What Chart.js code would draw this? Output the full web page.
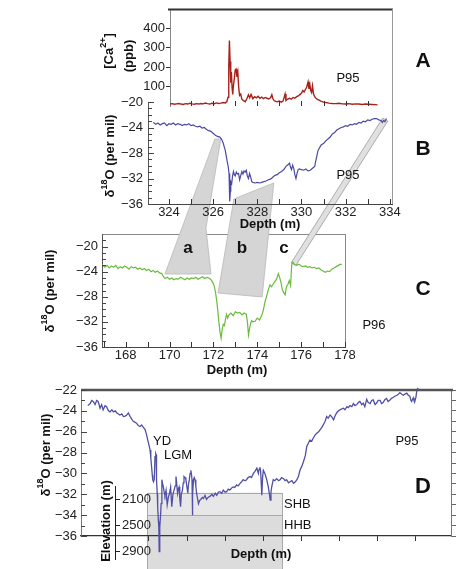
<!DOCTYPE html>
<html><head><meta charset="utf-8">
<script src="https://cdn.jsdelivr.net/npm/chart.js@4.4.1/dist/chart.umd.min.js"></script>
<style>
html,body{margin:0;padding:0;background:#fff;overflow:hidden}
#wrap{position:relative;width:464px;height:569px;background:#fff}
#wrap canvas{position:absolute;left:0;top:0}
</style></head><body>
<div id="wrap">
<canvas id="cC" width="464" height="569"></canvas>
<canvas id="cB" width="464" height="569"></canvas>
<canvas id="cA" width="464" height="569"></canvas>
<canvas id="cD" width="464" height="569"></canvas>
<canvas id="cE" width="464" height="569"></canvas>
</div>
<script>
// ---------- DATA ----------
// Panel A: P95 [Ca2+] (ppb) vs depth (m)
const depthA = [
324.05,324.15,324.25,324.35,324.45,324.55,324.65,324.75,324.85,324.95,
325.05,325.15,325.25,325.35,325.45,325.55,325.65,325.75,325.85,325.95,
326.05,326.15,326.25,326.35,326.45,326.55,326.62,326.68,326.71,326.74,
326.77,326.80,326.83,326.86,326.89,326.92,326.96,327.00,327.04,327.08,
327.12,327.16,327.20,327.25,327.30,327.38,327.46,327.54,327.60,327.66,
327.72,327.80,327.88,327.96,328.04,328.12,328.20,328.28,328.36,328.44,
328.52,328.60,328.66,328.70,328.76,328.84,328.92,329.00,329.08,329.16,
329.22,329.26,329.30,329.38,329.46,329.54,329.62,329.70,329.78,329.86,
329.94,330.00,330.06,330.12,330.18,330.24,330.30,330.34,330.38,330.42,
330.46,330.50,330.55,330.60,330.66,330.72,330.80,330.90,331.00,331.10,
331.25,331.40,331.55,331.70,331.85,332.00,332.15,332.30,332.45,332.60,
332.75,332.90,333.05,333.20,333.35,333.45];
const caA = [
10,12,9,11,13,10,8,12,10,14,
11,9,12,10,13,11,15,12,10,14,
12,16,13,15,18,16,22,45,200,338,
230,120,175,95,60,105,140,185,190,150,
175,95,55,62,35,28,22,40,58,42,
60,38,48,42,50,40,46,38,44,40,
36,42,58,40,28,24,22,26,20,24,
45,62,28,36,40,35,44,40,48,52,
60,66,80,72,85,98,124,88,112,80,
70,104,62,48,40,34,30,24,20,18,
15,13,12,14,11,10,12,9,11,10,
8,10,9,8,7,6];
const caTicks = [100,200,300,400];
const aDepthMarks = [325,326,327,328,329,330,331,332,333];

// Panel B: P95 d18O (per mil) vs depth (m)
const depthB = [
323.29,323.4,323.5,323.6,323.7,323.8,323.9,324.0,324.1,324.2,
324.3,324.4,324.5,324.6,324.7,324.8,324.9,325.0,325.1,325.2,
325.3,325.4,325.5,325.6,325.7,325.8,325.9,326.0,326.1,326.2,
326.3,326.38,326.45,326.5,326.55,326.6,326.64,326.68,326.72,326.74,
326.76,326.78,326.8,326.84,326.88,326.92,326.96,327.0,327.05,327.1,
327.15,327.2,327.25,327.3,327.35,327.4,327.45,327.5,327.55,327.6,
327.65,327.7,327.75,327.8,327.9,328.0,328.1,328.2,328.3,328.4,
328.5,328.6,328.7,328.8,328.9,329.0,329.1,329.2,329.3,329.4,
329.46,329.5,329.55,329.6,329.65,329.7,329.75,329.8,329.85,329.9,
330.0,330.1,330.2,330.3,330.4,330.5,330.6,330.65,330.7,330.75,
330.8,330.85,330.9,331.0,331.1,331.2,331.3,331.4,331.5,331.6,
331.7,331.8,331.9,332.0,332.1,332.2,332.3,332.4,332.5,332.6,
332.7,332.8,332.9,333.0,333.1,333.2,333.3,333.4,333.5,333.6,
333.66,333.72,333.78,333.85];
const d18B = [
-23.2,-23.5,-23.3,-23.6,-23.4,-23.3,-23.7,-23.4,-23.5,-23.3,
-23.6,-23.4,-23.5,-23.7,-23.5,-23.6,-23.4,-23.7,-23.6,-23.8,
-23.9,-23.8,-24.1,-24.0,-24.3,-24.5,-24.6,-24.9,-25.2,-25.4,
-25.5,-25.8,-26.4,-27.0,-27.6,-28.6,-29.4,-30.1,-31.2,-32.8,
-35.6,-34.0,-32.5,-32.8,-31.6,-30.9,-31.4,-31.6,-31.0,-31.3,
-31.2,-32.2,-31.5,-30.9,-31.3,-30.8,-31.0,-30.7,-31.6,-32.0,
-31.2,-31.8,-32.5,-32.6,-32.7,-32.6,-32.7,-32.6,-32.5,-32.4,
-32.2,-32.1,-31.8,-31.5,-31.4,-31.1,-30.9,-30.6,-30.1,-29.8,
-29.6,-30.2,-30.6,-29.9,-30.4,-31.4,-32.0,-31.2,-30.6,-30.5,
-30.6,-30.7,-30.5,-30.8,-30.7,-30.4,-30.1,-29.2,-28.4,-27.6,
-27.3,-27.0,-26.7,-26.5,-26.1,-25.8,-25.5,-25.0,-24.8,-24.4,
-24.2,-24.0,-23.9,-23.7,-23.8,-23.5,-23.6,-23.4,-23.5,-23.2,
-23.3,-23.0,-23.1,-22.8,-22.9,-22.7,-22.6,-22.6,-22.8,-22.9,
-23.2,-22.9,-23.1,-22.6];
const bDepthTicks = [324,326,328,330,332,334];
const bDepthMarks = [324,325,326,327,328,329,330,331,332,333,334];
const bD18Ticks = [-36,-32,-28,-24,-20];
const bD18Marks = [-36,-35,-34,-33,-32,-31,-30,-29,-28,-27,-26,-25,-24,-23,-22,-21,-20];

// Panel C: P96 d18O (per mil) vs depth (m)
const depthC = [
166.92,167.05,167.15,167.25,167.35,167.45,167.55,167.65,167.75,167.85,
167.95,168.05,168.15,168.25,168.35,168.45,168.55,168.65,168.75,168.85,
168.95,169.05,169.15,169.25,169.35,169.45,169.55,169.65,169.72,169.8,
169.9,170.0,170.1,170.2,170.3,170.4,170.5,170.6,170.7,170.8,
170.9,171.0,171.1,171.2,171.3,171.4,171.5,171.6,171.7,171.8,
171.9,172.0,172.05,172.1,172.15,172.2,172.25,172.3,172.35,172.4,
172.45,172.5,172.55,172.6,172.65,172.7,172.8,172.9,173.0,173.1,
173.2,173.3,173.4,173.5,173.55,173.6,173.65,173.7,173.75,173.8,
173.9,174.0,174.1,174.2,174.28,174.35,174.42,174.5,174.58,174.65,
174.72,174.8,174.88,174.96,175.02,175.08,175.14,175.2,175.27,175.33,
175.4,175.46,175.52,175.57,175.62,175.7,175.8,175.9,176.0,176.1,
176.2,176.3,176.4,176.5,176.6,176.7,176.8,176.9,177.0,177.1,
177.2,177.3,177.4,177.5,177.6,177.7,177.8,177.85];
const d18C = [
-22.9,-23.3,-23.0,-23.4,-23.1,-23.3,-23.0,-23.5,-23.2,-23.4,
-23.1,-23.3,-23.6,-23.2,-23.4,-23.3,-23.6,-23.4,-23.7,-23.5,
-23.8,-23.6,-24.0,-23.8,-24.1,-23.9,-24.2,-24.3,-24.8,-25.1,
-24.9,-25.2,-25.0,-25.3,-25.1,-25.2,-24.9,-25.1,-25.3,-25.0,
-25.2,-25.0,-25.1,-24.9,-25.2,-25.0,-24.8,-25.1,-24.9,-25.0,
-25.3,-25.9,-26.5,-27.4,-28.6,-30.2,-32.0,-33.6,-34.6,-33.2,
-32.4,-32.6,-31.6,-30.8,-31.4,-30.9,-30.6,-31.0,-30.4,-30.6,
-30.5,-30.9,-30.6,-30.8,-32.0,-34.1,-33.0,-32.2,-31.8,-32.0,
-31.9,-31.4,-31.7,-31.0,-30.1,-28.8,-28.0,-26.9,-26.1,-26.4,
-26.0,-25.6,-25.2,-24.3,-24.9,-25.7,-26.8,-27.3,-27.7,-26.4,
-26.0,-25.4,-26.2,-22.9,-22.5,-22.9,-23.0,-22.8,-23.1,-23.2,
-23.1,-23.3,-23.2,-23.4,-23.3,-23.5,-23.4,-23.7,-23.9,-24.1,
-23.9,-24.0,-23.6,-23.4,-23.2,-23.0,-22.8,-22.9];
const cDepthTicks = [168,170,172,174,176,178];
const cDepthMarks = [167,168,169,170,171,172,173,174,175,176,177,178];
const cD18Ticks = [-36,-32,-28,-24,-20];
const cD18Marks = [-36,-35,-34,-33,-32,-31,-30,-29,-28,-27,-26,-25,-24,-23,-22,-21,-20,-19];

// Panel D: P95 d18O (per mil) along the longer depth section (unlabelled depth units)
const depthD = [
0.40,0.46,0.50,0.54,0.59,0.63,0.67,0.72,0.76,0.80,
0.85,0.89,0.94,0.98,1.03,1.07,1.12,1.16,1.20,1.24,
1.29,1.33,1.38,1.42,1.46,1.51,1.55,1.59,1.64,1.68,
1.72,1.77,1.81,1.86,1.90,1.94,1.97,1.99,2.01,2.03,
2.05,2.07,2.09,2.10,2.12,2.14,2.16,2.18,2.19,2.20,
2.22,2.23,2.25,2.26,2.27,2.28,2.29,2.31,2.32,2.34,
2.36,2.38,2.40,2.42,2.45,2.48,2.51,2.54,2.57,2.60,
2.63,2.66,2.69,2.71,2.73,2.75,2.77,2.79,2.81,2.83,
2.85,2.88,2.90,2.92,2.95,2.97,3.00,3.02,3.04,3.06,
3.08,3.10,3.12,3.13,3.14,3.15,3.17,3.19,3.21,3.23,
3.25,3.28,3.30,3.33,3.36,3.40,3.43,3.47,3.51,3.55,
3.60,3.65,3.69,3.74,3.78,3.82,3.86,3.91,3.95,4.00,
4.04,4.08,4.12,4.17,4.21,4.25,4.30,4.34,4.39,4.43,
4.47,4.52,4.56,4.60,4.65,4.69,4.74,4.78,4.83,4.87,
4.89,4.91,4.93,4.96,4.98,5.00,5.04,5.09,5.13,5.16,
5.18,5.20,5.22,5.26,5.30,5.35,5.40,5.44,5.48,5.53,
5.57,5.61,5.66,5.70,5.75,5.79,5.84,5.88,5.92,5.96,
6.01,6.05,6.10,6.14,6.18,6.22,6.27,6.31,6.36,6.40,
6.45,6.49,6.53,6.57,6.62,6.66,6.70,6.75,6.80,6.84,
6.88,6.92,6.97,7.01,7.06,7.10,7.14,7.19,7.23,7.27,
7.32,7.36,7.40,7.45,7.49,7.53,7.58,7.62,7.66,7.71,
7.75,7.80,7.84,7.88,7.93,7.97,8.01,8.06,8.10,8.14,
8.19,8.23,8.27,8.32,8.36,8.41,8.45,8.50,8.54,8.58,
8.63,8.67,8.71,8.76,8.80,8.84,8.87,8.89,8.91,8.93,
8.95,8.97,9.00,9.02,9.04,9.06];
const d18D = [
-23.5,-23.3,-23.0,-23.1,-23.4,-23.0,-23.1,-23.75,-23.4,-23.9,
-23.5,-23.6,-24.0,-24.1,-23.9,-24.1,-24.0,-24.2,-24.3,-24.4,
-24.3,-24.55,-24.5,-24.4,-24.2,-24.55,-24.8,-25.0,-25.1,-25.2,
-25.4,-25.5,-25.35,-25.6,-25.8,-26.3,-26.8,-27.1,-27.4,-27.75,
-28.5,-29.35,-30.2,-30.6,-30.8,-30.6,-28.4,-28.1,-28.2,-30.6,
-32.0,-33.2,-34.6,-35.1,-37.5,-36.6,-35.1,-33.8,-32.9,-30.6,
-31.0,-31.3,-31.8,-32.1,-31.6,-33.0,-32.3,-31.9,-31.3,-33.2,
-32.0,-31.6,-31.2,-30.3,-31.0,-31.9,-31.5,-31.3,-32.4,-33.2,
-32.0,-31.6,-30.9,-30.3,-30.4,-30.6,-31.4,-31.9,-31.0,-30.6,
-30.0,-29.7,-30.2,-30.6,-34.0,-32.0,-30.6,-30.4,-30.6,-31.2,
-31.9,-32.5,-32.9,-32.6,-32.5,-32.3,-32.4,-32.1,-32.5,-32.3,
-32.2,-32.0,-32.2,-31.9,-32.1,-31.8,-31.75,-31.9,-31.6,-31.8,
-31.75,-31.5,-31.6,-31.4,-31.3,-31.35,-31.1,-31.2,-30.95,-30.8,
-30.6,-30.7,-30.6,-30.4,-30.3,-30.4,-30.0,-29.8,-29.5,-30.0,
-29.6,-29.4,-29.8,-32.1,-30.4,-29.7,-30.0,-30.6,-31.3,-32.0,
-32.55,-31.8,-31.3,-30.6,-30.7,-30.5,-30.7,-30.6,-30.4,-30.5,
-30.7,-30.6,-30.9,-30.8,-30.7,-30.95,-30.8,-30.6,-30.3,-29.7,
-29.3,-28.9,-28.3,-27.4,-27.1,-26.8,-26.9,-26.6,-26.3,-26.15,
-26.0,-25.8,-25.6,-25.35,-25.0,-24.55,-24.7,-24.4,-24.6,-24.85,
-24.5,-24.2,-24.0,-23.9,-23.8,-23.75,-23.9,-23.6,-23.7,-23.5,
-23.6,-23.3,-23.5,-23.4,-23.2,-23.1,-23.4,-23.25,-23.6,-22.9,
-23.2,-23.3,-23.0,-22.95,-23.4,-23.25,-23.0,-23.0,-23.3,-23.2,
-22.9,-22.8,-23.1,-22.95,-22.8,-22.7,-22.6,-22.5,-22.4,-22.25,
-22.4,-22.5,-22.4,-22.3,-22.5,-22.6,-23.0,-23.1,-22.9,-22.75,
-23.0,-23.1,-22.7,-22.15,-21.9,-21.8];
const dDepthMarks = [2,3,4,5,6,7,8,9];
const dD18Ticks = [-36,-34,-32,-30,-28,-26,-24,-22];
const dD18Marks = [-36,-35,-34,-33,-32,-31,-30,-29,-28,-27,-26,-25,-24,-23,-22];

// Elevation inset (m) and the two bands SHB / HHB
const elevTicks = [2100,2500,2900];
const bandNames = ['SHB','HHB'];
const bandElevFrom = [2000,2350];
const bandElevTo = [2350,3200];
const bandDepthFrom = 1.95;
const bandDepthTo = 5.49;

// Correlation wedges between P95 (panel B) and P96 (panel C): [panel, depth, d18O]
const wedgeA = [['B',326.08,-25.8],['B',326.35,-25.8],['C',171.66,-17.04],['C',171.89,-24.37],['C',169.79,-24.37]];
const wedgeB = [['B',326.94,-35.2],['B',328.75,-32.7],['C',174.22,-28.03],['C',172.21,-27.4]];
const wedgeC = [['B',333.68,-22.51],['B',333.91,-22.98],['C',175.77,-22.94],['C',175.54,-22.62]];

// ---------- HELPERS ----------
const FONT = "'Liberation Sans', Arial, Helvetica, sans-serif";
Chart.defaults.font.family = FONT;
Chart.defaults.font.size = 13;
Chart.defaults.color = '#1a1a1a';
const fixW = w => s => { s.width = w; };
const fixH = h => s => { s.height = h; };
const setTicks = arr => s => { s.ticks = arr.map(v => ({value: v})); };
const minus = v => String(v).replace('-', '\u2212');
const plain = v => String(v);
const pts = (xs, ys) => xs.map((x, i) => ({x: x, y: ys[i]}));
const B13 = 'bold 13px ' + FONT, B9 = 'bold 9px ' + FONT;

function txt(ctx, s, x, y, font, align) {
  ctx.save(); ctx.font = font; ctx.fillStyle = '#111';
  ctx.textAlign = align || 'center'; ctx.textBaseline = 'middle';
  ctx.fillText(s, x, y); ctx.restore();
}
function vrich(ctx, parts, x, y) {
  ctx.save(); ctx.translate(x, y); ctx.rotate(-Math.PI / 2);
  ctx.fillStyle = '#111'; ctx.textBaseline = 'middle'; ctx.textAlign = 'left';
  let w = 0;
  parts.forEach(p => { ctx.font = p.f; p.w = ctx.measureText(p.t).width; w += p.w; });
  let cx = -w / 2;
  parts.forEach(p => { ctx.font = p.f; ctx.fillText(p.t, cx, p.dy || 0); cx += p.w; });
  ctx.restore();
}
const d18Title = [{t: '\u03b4', f: B13}, {t: '18', f: B9, dy: -5}, {t: 'O (per mil)', f: B13}];
function line(ctx, x1, y1, x2, y2, color, w) {
  ctx.save(); ctx.strokeStyle = color; ctx.lineWidth = w || 1;
  ctx.beginPath(); ctx.moveTo(x1, y1); ctx.lineTo(x2, y2); ctx.stroke(); ctx.restore();
}
function xMarks(ctx, scale, vals, yEdge, len, color) {
  vals.forEach(v => { const p = Math.round(scale.getPixelForValue(v)) + 0.5; line(ctx, p, yEdge, p, yEdge - len, color, 1); });
}
function yMarks(ctx, scale, vals, xEdge, majors, lenMin, lenMaj, color) {
  vals.forEach(v => {
    const p = Math.round(scale.getPixelForValue(v)) + 0.5;
    const L = majors.indexOf(v) >= 0 ? lenMaj : lenMin;
    line(ctx, xEdge, p, xEdge + L, p, color, 1);
  });
}
const baseOpts = (pad) => ({
  responsive: false, animation: false, devicePixelRatio: 1, events: [],
  layout: {padding: pad},
  plugins: {legend: {display: false}, tooltip: {enabled: false}, title: {display: false}}
});

// ---------- PANEL B ----------
const chartB = new Chart(document.getElementById('cB'), {
  type: 'line',
  data: {datasets: [{data: pts(depthB, d18B), borderColor: '#4a4aa2', borderWidth: 1.2, pointRadius: 0, tension: 0}]},
  options: Object.assign(baseOpts({left: 108, right: 72, top: 102, bottom: 349}), {
    scales: {
      x: {type: 'linear', min: 323.05, max: 334.1, afterFit: fixH(16), afterBuildTicks: setTicks(bDepthTicks),
          ticks: {padding: 1, color: '#222', autoSkip: false, maxRotation: 0, callback: plain},
          grid: {display: false, drawTicks: false}, border: {display: true, color: '#444'}},
      y: {type: 'linear', min: -36, max: -20, afterFit: fixW(40), afterBuildTicks: setTicks(bD18Ticks),
          ticks: {padding: 5, color: '#222', callback: minus},
          grid: {display: false, drawTicks: false}, border: {display: true, color: '#555'}}
    }
  }),
  plugins: [{id: 'decoB', afterDraw(c) {
    const ctx = c.ctx, a = c.chartArea;
    line(ctx, a.right + 0.5, a.top, a.right + 0.5, a.bottom, '#999', 1);
    xMarks(ctx, c.scales.x, bDepthMarks, a.bottom, 5, '#333');
    yMarks(ctx, c.scales.y, bD18Marks, a.left, bD18Ticks, 4, 6, '#444');
    txt(ctx, 'P95', 348, 175, '13px ' + FONT);
    txt(ctx, 'Depth (m)', 270, 224, B13);
    txt(ctx, 'B', 423, 149, 'bold 21px ' + FONT);
    vrich(ctx, d18Title, 110, 156);
  }}]
});

// ---------- PANEL C ----------
function wedgePx(p, self) {
  const ch = p[0] === 'B' ? chartB : self;
  return [ch.scales.x.getPixelForValue(p[1]), ch.scales.y.getPixelForValue(p[2])];
}
function drawWedge(ctx, w, self, fill, stroke) {
  ctx.save(); ctx.beginPath();
  w.forEach((p, i) => { const q = wedgePx(p, self); if (i === 0) ctx.moveTo(q[0], q[1]); else ctx.lineTo(q[0], q[1]); });
  ctx.closePath(); ctx.fillStyle = fill; ctx.fill();
  ctx.strokeStyle = stroke; ctx.lineWidth = 0.8; ctx.stroke(); ctx.restore();
}
const chartC = new Chart(document.getElementById('cC'), {
  type: 'line',
  data: {datasets: [{data: pts(depthC, d18C), borderColor: '#6abb3c', borderWidth: 1.2, pointRadius: 0, tension: 0}]},
  options: Object.assign(baseOpts({left: 62, right: 119, top: 234, bottom: 206}), {
    scales: {
      x: {type: 'linear', min: 166.92, max: 178, afterFit: fixH(16), afterBuildTicks: setTicks(cDepthTicks),
          ticks: {padding: 1, color: '#222', autoSkip: false, maxRotation: 0, callback: plain},
          grid: {display: false, drawTicks: false}, border: {display: true, color: '#444'}},
      y: {type: 'linear', min: -36, max: -18, afterFit: fixW(40), afterBuildTicks: setTicks(cD18Ticks),
          ticks: {padding: 4, color: '#222', callback: minus},
          grid: {display: false, drawTicks: false}, border: {display: true, color: '#555'}}
    }
  }),
  plugins: [{id: 'decoC',
    beforeDraw(c) {
      const ctx = c.ctx, a = c.chartArea;
      line(ctx, a.left, a.top + 0.5, a.right, a.top + 0.5, '#888', 1);
      line(ctx, a.right + 0.5, a.top, a.right + 0.5, a.bottom, '#888', 1);
    },
    beforeDatasetsDraw(c) {
      const ctx = c.ctx;
      drawWedge(ctx, wedgeA, c, '#d5d5d5', '#b8b8b8');
      drawWedge(ctx, wedgeB, c, '#d5d5d5', '#b8b8b8');
      drawWedge(ctx, wedgeC, c, '#e0e0e0', '#9a9a9a');
    },
    afterDraw(c) {
      const ctx = c.ctx, a = c.chartArea;
      xMarks(ctx, c.scales.x, cDepthMarks, a.bottom, 5, '#333');
      yMarks(ctx, c.scales.y, cD18Marks, a.left, cD18Ticks, 4, 6, '#444');
      txt(ctx, 'a', 188, 248, 'bold 17px ' + FONT);
      txt(ctx, 'b', 242, 248, 'bold 17px ' + FONT);
      txt(ctx, 'c', 284, 248, 'bold 17px ' + FONT);
      txt(ctx, 'P96', 374, 325, '13px ' + FONT);
      txt(ctx, 'Depth (m)', 237, 370, B13);
      txt(ctx, 'C', 423, 289, 'bold 21px ' + FONT);
      vrich(ctx, d18Title, 50, 291);
    }
  }]
});

// ---------- PANEL A ----------
const chartA = new Chart(document.getElementById('cA'), {
  type: 'line',
  data: {datasets: [{data: pts(depthA, caA), borderColor: '#a8221a', borderWidth: 1.4, pointRadius: 0, tension: 0}]},
  options: Object.assign(baseOpts({left: 110, right: 72, top: 9, bottom: 463}), {
    scales: {
      x: {type: 'linear', min: 324.05, max: 334.1, display: false},
      y: {type: 'linear', min: 0, max: 500, afterFit: fixW(60), afterBuildTicks: setTicks(caTicks),
          ticks: {padding: 1, color: '#222', callback: plain},
          grid: {display: true, drawOnChartArea: false, drawTicks: true, tickLength: 4, color: '#333'},
          border: {display: true, color: '#888'}}
    }
  }),
  plugins: [{id: 'decoA', afterDraw(c) {
    const ctx = c.ctx, a = c.chartArea;
    line(ctx, a.left - 2, a.top + 0.5, a.right + 1, a.top + 0.5, '#333', 2.2);
    line(ctx, a.right + 0.5, a.top, a.right + 0.5, a.bottom, '#999', 1);
    xMarks(ctx, c.scales.x, aDepthMarks, a.bottom, 5, '#333');
    txt(ctx, 'P95', 348, 78, '13px ' + FONT);
    txt(ctx, 'A', 423, 61, 'bold 21px ' + FONT);
    vrich(ctx, [{t: '[Ca', f: B13}, {t: '2+', f: B9, dy: -5}, {t: ']', f: B13}], 109, 51);
    vrich(ctx, [{t: '(ppb)', f: B13}], 129, 56);
  }}]
});

// ---------- ELEVATION INSET ----------
const chartE = new Chart(document.getElementById('cE'), {
  type: 'line',
  data: {datasets: []},
  options: Object.assign(baseOpts({left: 100, right: 309, top: 486, bottom: 4}), {
    scales: {
      x: {type: 'linear', min: 0, max: 1, display: false},
      y: {type: 'linear', position: 'right', reverse: true, min: 1900, max: 3020,
          afterFit: fixW(40), afterBuildTicks: setTicks(elevTicks),
          ticks: {padding: 2, color: '#222', callback: plain},
          grid: {display: true, drawOnChartArea: false, drawTicks: true, tickLength: 5, color: '#222'},
          border: {display: true, color: '#222'}}
    }
  }),
  plugins: [{id: 'decoE', afterDraw(c) {
    vrich(c.ctx, [{t: 'Elevation (m)', f: B13}], 106, 521);
  }}]
});

// ---------- PANEL D ----------
const chartD = new Chart(document.getElementById('cD'), {
  type: 'line',
  data: {datasets: [{data: pts(depthD, d18D), borderColor: '#5050a4', borderWidth: 1.3, pointRadius: 0, tension: 0, clip: false}]},
  options: Object.assign(baseOpts({left: 51, right: 7, top: 390, bottom: 27}), {
    scales: {
      x: {type: 'linear', min: 0.22, max: 9.92, afterFit: fixH(6), afterBuildTicks: setTicks(dDepthMarks),
          ticks: {display: false},
          grid: {display: true, drawOnChartArea: false, drawTicks: true, tickLength: 5, color: '#333'},
          border: {display: true, color: '#333', width: 1.2}},
      y: {type: 'linear', min: -36, max: -22, afterFit: fixW(30), afterBuildTicks: setTicks(dD18Ticks),
          ticks: {padding: 4, color: '#222', callback: minus},
          grid: {display: false, drawTicks: false}, border: {display: true, color: '#777'}},
      y2: {type: 'linear', position: 'right', min: -36, max: -22, afterFit: fixW(6), afterBuildTicks: setTicks(dD18Marks),
          ticks: {display: false},
          grid: {display: true, drawOnChartArea: false, drawTicks: true, tickLength: 5, color: '#666'},
          border: {display: true, color: '#777'}}
    }
  }),
  plugins: [{id: 'decoD',
    beforeDraw(c) {
      const ctx = c.ctx, xs = c.scales.x, es = chartE.scales.y;
      const x1 = xs.getPixelForValue(bandDepthFrom), x2 = xs.getPixelForValue(bandDepthTo);
      const fills = ['#e7e7e7', '#dcdcdc'];
      bandNames.forEach((n, i) => {
        const y1 = es.getPixelForValue(bandElevFrom[i]), y2 = es.getPixelForValue(bandElevTo[i]);
        ctx.save(); ctx.fillStyle = fills[i]; ctx.fillRect(x1, y1, x2 - x1, y2 - y1);
        ctx.strokeStyle = '#a8a8a8'; ctx.lineWidth = 1; ctx.strokeRect(Math.round(x1) + 0.5, Math.round(y1) + 0.5, x2 - x1, y2 - y1);
        ctx.restore();
        txt(ctx, n, x2 + 2, (y1 + Math.min(y2, c.chartArea.bottom)) / 2, '13px ' + FONT, 'left');
      });
    },
    afterDraw(c) {
      const ctx = c.ctx, a = c.chartArea;
      line(ctx, a.left, a.top, a.right + 2, a.top, '#555', 2.5);
      yMarks(ctx, c.scales.y, dD18Marks, a.left, dD18Ticks, 4, 6, '#444');
      txt(ctx, 'YD', 162, 441, '13px ' + FONT);
      txt(ctx, 'LGM', 178, 455, '13px ' + FONT);
      txt(ctx, 'P95', 407, 441, '13px ' + FONT);
      txt(ctx, 'D', 423, 487, 'bold 22px ' + FONT);
      txt(ctx, 'Depth (m)', 261, 554, B13);
      vrich(ctx, d18Title, 46, 455);
    }
  }]
});
</script>
</body></html>
